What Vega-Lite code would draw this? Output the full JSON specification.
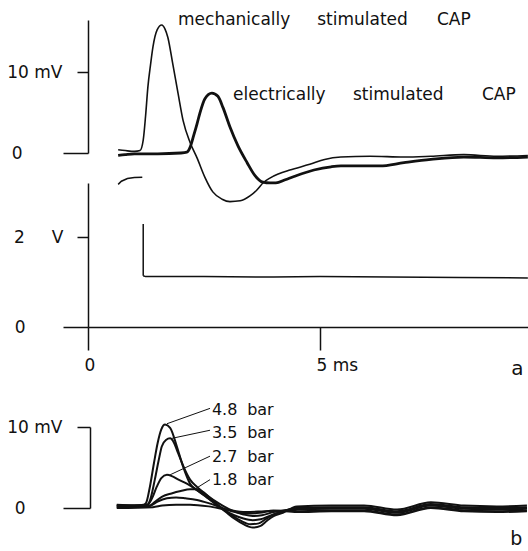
{
  "$schema": "https://vega.github.io/schema/vega-lite/v6.json",
  "width": 528,
  "height": 551,
  "autosize": {"type": "none"},
  "padding": 0,
  "background": "white",
  "config": {
    "view": {"stroke": null},
    "axis": {"grid": false, "domainColor": "#111", "tickColor": "#111", "labelColor": "#111", "labelFont": "DejaVu Sans", "labelFontSize": 17, "domainWidth": 1.5, "tickWidth": 1.5, "labelOverlap": false, "labelFlush": false}
  },
  "datasets": {
    "top": [
      {"trace":"mechanical","t":0.65,"v":0.4},{"trace":"mechanical","t":0.8,"v":0.3},{"trace":"mechanical","t":1.0,"v":0.2},{"trace":"mechanical","t":1.12,"v":0.3},{"trace":"mechanical","t":1.19,"v":1.6},{"trace":"mechanical","t":1.24,"v":4.5},{"trace":"mechanical","t":1.29,"v":8.1},{"trace":"mechanical","t":1.35,"v":11.0},{"trace":"mechanical","t":1.4,"v":13.1},{"trace":"mechanical","t":1.49,"v":15.2},{"trace":"mechanical","t":1.59,"v":15.8},{"trace":"mechanical","t":1.66,"v":15.3},{"trace":"mechanical","t":1.72,"v":14.3},{"trace":"mechanical","t":1.83,"v":10.9},{"trace":"mechanical","t":1.94,"v":7.4},{"trace":"mechanical","t":2.05,"v":4.0},{"trace":"mechanical","t":2.2,"v":1.3},{"trace":"mechanical","t":2.35,"v":-0.6},{"trace":"mechanical","t":2.52,"v":-3.0},{"trace":"mechanical","t":2.69,"v":-4.8},{"trace":"mechanical","t":2.89,"v":-5.7},{"trace":"mechanical","t":3.06,"v":-6.0},{"trace":"mechanical","t":3.28,"v":-5.9},{"trace":"mechanical","t":3.49,"v":-5.3},{"trace":"mechanical","t":3.65,"v":-4.5},{"trace":"mechanical","t":3.77,"v":-3.7},{"trace":"mechanical","t":3.92,"v":-3.1},{"trace":"mechanical","t":4.1,"v":-2.6},{"trace":"mechanical","t":4.35,"v":-2.1},{"trace":"mechanical","t":4.78,"v":-1.4},{"trace":"mechanical","t":5.1,"v":-0.8},{"trace":"mechanical","t":5.45,"v":-0.5},{"trace":"mechanical","t":6.08,"v":-0.4},{"trace":"mechanical","t":6.81,"v":-0.5},{"trace":"mechanical","t":7.39,"v":-0.4},{"trace":"mechanical","t":8.1,"v":-0.2},{"trace":"mechanical","t":8.81,"v":-0.4},{"trace":"mechanical","t":9.48,"v":-0.3},
      {"trace":"electrical","t":0.65,"v":-0.3},{"trace":"electrical","t":0.8,"v":-0.2},{"trace":"electrical","t":1.0,"v":-0.1},{"trace":"electrical","t":1.5,"v":-0.1},{"trace":"electrical","t":2.0,"v":0.0},{"trace":"electrical","t":2.13,"v":0.1},{"trace":"electrical","t":2.2,"v":0.7},{"trace":"electrical","t":2.28,"v":2.2},{"trace":"electrical","t":2.35,"v":3.6},{"trace":"electrical","t":2.41,"v":4.9},{"trace":"electrical","t":2.52,"v":6.7},{"trace":"electrical","t":2.67,"v":7.4},{"trace":"electrical","t":2.8,"v":7.0},{"trace":"electrical","t":2.91,"v":5.6},{"trace":"electrical","t":3.06,"v":3.2},{"trace":"electrical","t":3.23,"v":0.9},{"trace":"electrical","t":3.43,"v":-1.2},{"trace":"electrical","t":3.6,"v":-2.8},{"trace":"electrical","t":3.77,"v":-3.6},{"trace":"electrical","t":3.92,"v":-3.7},{"trace":"electrical","t":4.05,"v":-3.7},{"trace":"electrical","t":4.25,"v":-3.3},{"trace":"electrical","t":4.44,"v":-2.9},{"trace":"electrical","t":4.87,"v":-2.1},{"trace":"electrical","t":5.24,"v":-1.7},{"trace":"electrical","t":5.45,"v":-1.6},{"trace":"electrical","t":6.29,"v":-1.6},{"trace":"electrical","t":6.81,"v":-1.2},{"trace":"electrical","t":7.39,"v":-0.8},{"trace":"electrical","t":8.1,"v":-0.5},{"trace":"electrical","t":8.81,"v":-0.6},{"trace":"electrical","t":9.48,"v":-0.5}
    ],
    "topText": [
      {"t":1.94,"v":15.8,"w":"mechanically"},{"t":4.94,"v":15.8,"w":"stimulated"},{"t":7.52,"v":15.8,"w":"CAP"},
      {"t":3.125,"v":6.54,"w":"electrically"},{"t":5.71,"v":6.54,"w":"stimulated"},{"t":8.49,"v":6.54,"w":"CAP"}
    ],
    "volt": [
      {"seg":"pre","t":0.65,"v":3.17},{"seg":"pre","t":0.72,"v":3.24},{"seg":"pre","t":0.85,"v":3.3},{"seg":"pre","t":1.0,"v":3.32},{"seg":"pre","t":1.17,"v":3.33},
      {"seg":"drop","t":1.19,"v":2.29},{"seg":"drop","t":1.19,"v":1.14},
      {"seg":"level","t":1.19,"v":1.14},{"seg":"level","t":1.24,"v":1.12},{"seg":"level","t":2.5,"v":1.12},{"seg":"level","t":4.0,"v":1.11},{"seg":"level","t":5.0,"v":1.12},{"seg":"level","t":6.5,"v":1.11},{"seg":"level","t":8.0,"v":1.1},{"seg":"level","t":9.48,"v":1.09}
    ],
    "b": [
      {"p":"4.8","t":0.62,"v":0.3},{"p":"4.8","t":1.0,"v":0.3},{"p":"4.8","t":1.2,"v":0.4},{"p":"4.8","t":1.25,"v":0.6},{"p":"4.8","t":1.33,"v":2.5},{"p":"4.8","t":1.42,"v":5.5},{"p":"4.8","t":1.5,"v":8.0},{"p":"4.8","t":1.58,"v":9.7},{"p":"4.8","t":1.66,"v":10.3},{"p":"4.8","t":1.77,"v":9.9},{"p":"4.8","t":1.92,"v":7.5},{"p":"4.8","t":2.05,"v":5.1},{"p":"4.8","t":2.2,"v":3.0},{"p":"4.8","t":2.35,"v":2.2},{"p":"4.8","t":2.5,"v":1.6},{"p":"4.8","t":2.7,"v":0.7},{"p":"4.8","t":2.95,"v":-0.4},{"p":"4.8","t":3.15,"v":-1.3},{"p":"4.8","t":3.35,"v":-2.0},{"p":"4.8","t":3.55,"v":-2.4},{"p":"4.8","t":3.72,"v":-2.2},{"p":"4.8","t":3.85,"v":-1.6},{"p":"4.8","t":4.0,"v":-1.0},{"p":"4.8","t":4.2,"v":-0.6},{"p":"4.8","t":4.5,"v":0.2},{"p":"4.8","t":5.24,"v":0.3},{"p":"4.8","t":5.95,"v":0.3},{"p":"4.8","t":6.66,"v":-0.2},{"p":"4.8","t":7.39,"v":0.7},{"p":"4.8","t":8.1,"v":0.3},{"p":"4.8","t":8.81,"v":0.2},{"p":"4.8","t":9.46,"v":0.3},
      {"p":"3.5","t":0.62,"v":0.2},{"p":"3.5","t":1.0,"v":0.2},{"p":"3.5","t":1.25,"v":0.3},{"p":"3.5","t":1.34,"v":1.0},{"p":"3.5","t":1.44,"v":3.5},{"p":"3.5","t":1.52,"v":5.8},{"p":"3.5","t":1.59,"v":7.6},{"p":"3.5","t":1.68,"v":8.4},{"p":"3.5","t":1.77,"v":8.6},{"p":"3.5","t":1.85,"v":8.1},{"p":"3.5","t":1.94,"v":6.8},{"p":"3.5","t":2.09,"v":4.7},{"p":"3.5","t":2.2,"v":3.5},{"p":"3.5","t":2.35,"v":2.6},{"p":"3.5","t":2.5,"v":1.9},{"p":"3.5","t":2.7,"v":0.9},{"p":"3.5","t":2.9,"v":-0.1},{"p":"3.5","t":3.1,"v":-0.9},{"p":"3.5","t":3.3,"v":-1.6},{"p":"3.5","t":3.5,"v":-2.0},{"p":"3.5","t":3.68,"v":-1.9},{"p":"3.5","t":3.82,"v":-1.4},{"p":"3.5","t":4.0,"v":-0.8},{"p":"3.5","t":4.2,"v":-0.4},{"p":"3.5","t":4.5,"v":0.0},{"p":"3.5","t":5.24,"v":0.1},{"p":"3.5","t":5.95,"v":0.1},{"p":"3.5","t":6.66,"v":-0.4},{"p":"3.5","t":7.39,"v":0.5},{"p":"3.5","t":8.1,"v":0.1},{"p":"3.5","t":8.81,"v":0.0},{"p":"3.5","t":9.46,"v":0.1},
      {"p":"2.7","t":0.62,"v":0.4},{"p":"2.7","t":1.0,"v":0.3},{"p":"2.7","t":1.28,"v":0.4},{"p":"2.7","t":1.38,"v":1.2},{"p":"2.7","t":1.48,"v":2.6},{"p":"2.7","t":1.58,"v":3.7},{"p":"2.7","t":1.7,"v":4.1},{"p":"2.7","t":1.82,"v":3.9},{"p":"2.7","t":1.95,"v":3.5},{"p":"2.7","t":2.13,"v":3.0},{"p":"2.7","t":2.35,"v":2.2},{"p":"2.7","t":2.56,"v":1.3},{"p":"2.7","t":2.75,"v":0.5},{"p":"2.7","t":2.95,"v":-0.3},{"p":"2.7","t":3.15,"v":-0.9},{"p":"2.7","t":3.35,"v":-1.3},{"p":"2.7","t":3.55,"v":-1.5},{"p":"2.7","t":3.72,"v":-1.4},{"p":"2.7","t":3.9,"v":-1.0},{"p":"2.7","t":4.1,"v":-0.6},{"p":"2.7","t":4.3,"v":-0.3},{"p":"2.7","t":4.5,"v":-0.2},{"p":"2.7","t":5.24,"v":-0.1},{"p":"2.7","t":5.95,"v":-0.1},{"p":"2.7","t":6.66,"v":-0.6},{"p":"2.7","t":7.39,"v":0.3},{"p":"2.7","t":8.1,"v":-0.1},{"p":"2.7","t":8.81,"v":-0.2},{"p":"2.7","t":9.46,"v":-0.1},
      {"p":"1.8","t":0.62,"v":0.1},{"p":"1.8","t":1.3,"v":0.2},{"p":"1.8","t":1.45,"v":0.8},{"p":"1.8","t":1.6,"v":1.4},{"p":"1.8","t":1.8,"v":1.8},{"p":"1.8","t":2.0,"v":2.1},{"p":"1.8","t":2.2,"v":2.3},{"p":"1.8","t":2.35,"v":2.3},{"p":"1.8","t":2.5,"v":1.8},{"p":"1.8","t":2.7,"v":1.0},{"p":"1.8","t":2.9,"v":0.3},{"p":"1.8","t":3.1,"v":-0.3},{"p":"1.8","t":3.35,"v":-0.8},{"p":"1.8","t":3.55,"v":-1.0},{"p":"1.8","t":3.75,"v":-0.9},{"p":"1.8","t":4.0,"v":-0.5},{"p":"1.8","t":4.3,"v":-0.3},{"p":"1.8","t":4.5,"v":-0.4},{"p":"1.8","t":5.24,"v":-0.3},{"p":"1.8","t":5.95,"v":-0.3},{"p":"1.8","t":6.66,"v":-0.8},{"p":"1.8","t":7.39,"v":0.1},{"p":"1.8","t":8.1,"v":-0.3},{"p":"1.8","t":8.81,"v":-0.4},{"p":"1.8","t":9.46,"v":-0.3},
      {"p":"x1","t":0.62,"v":0.3},{"p":"x1","t":1.35,"v":0.3},{"p":"x1","t":1.5,"v":0.8},{"p":"x1","t":1.7,"v":1.2},{"p":"x1","t":1.9,"v":1.3},{"p":"x1","t":2.1,"v":1.2},{"p":"x1","t":2.35,"v":1.0},{"p":"x1","t":2.6,"v":0.6},{"p":"x1","t":2.85,"v":0.1},{"p":"x1","t":3.1,"v":-0.4},{"p":"x1","t":3.4,"v":-0.7},{"p":"x1","t":3.7,"v":-0.6},{"p":"x1","t":4.0,"v":-0.3},{"p":"x1","t":4.5,"v":-0.5},{"p":"x1","t":5.24,"v":-0.4},{"p":"x1","t":5.95,"v":-0.4},{"p":"x1","t":6.66,"v":-0.9},{"p":"x1","t":7.39,"v":0.0},{"p":"x1","t":8.1,"v":-0.4},{"p":"x1","t":8.81,"v":-0.5},{"p":"x1","t":9.46,"v":-0.4},
      {"p":"x2","t":0.62,"v":0.0},{"p":"x2","t":1.4,"v":0.1},{"p":"x2","t":1.6,"v":0.3},{"p":"x2","t":1.9,"v":0.4},{"p":"x2","t":2.2,"v":0.4},{"p":"x2","t":2.6,"v":0.2},{"p":"x2","t":3.0,"v":-0.2},{"p":"x2","t":3.4,"v":-0.5},{"p":"x2","t":3.8,"v":-0.4},{"p":"x2","t":4.2,"v":-0.3},{"p":"x2","t":4.5,"v":-0.1},{"p":"x2","t":5.24,"v":0.0},{"p":"x2","t":5.95,"v":0.0},{"p":"x2","t":6.66,"v":-0.5},{"p":"x2","t":7.39,"v":0.4},{"p":"x2","t":8.1,"v":0.0},{"p":"x2","t":8.81,"v":-0.1},{"p":"x2","t":9.46,"v":0.0}
    ],
    "bLead": [
      {"t":1.7,"v":10.4,"t2":2.63,"v2":12.3},
      {"t":1.81,"v":8.6,"t2":2.63,"v2":9.6},
      {"t":1.77,"v":4.1,"t2":2.63,"v2":6.4},
      {"t":2.35,"v":2.5,"t2":2.63,"v2":3.5}
    ],
    "bText": [
      {"t":2.67,"v":11.48,"w":"4.8"},{"t":3.43,"v":11.48,"w":"bar"},
      {"t":2.67,"v":8.64,"w":"3.5"},{"t":3.43,"v":8.64,"w":"bar"},
      {"t":2.67,"v":5.68,"w":"2.7"},{"t":3.43,"v":5.68,"w":"bar"},
      {"t":2.67,"v":2.84,"w":"1.8"},{"t":3.43,"v":2.84,"w":"bar"}
    ]
  },
  "layer": [
    {
      "data": {"name": "top"},
      "mark": {"type": "line", "interpolate": "monotone", "color": "#111"},
      "encoding": {
        "x": {"field": "t", "type": "quantitative", "scale": {"domain": [0, 9.483], "range": [88, 528], "nice": false, "zero": false}},
        "y": {"field": "v", "type": "quantitative", "scale": {"domain": [0, 16.42], "range": [153, 20], "nice": false, "zero": false},
          "axis": {"orient": "left", "offset": -88, "values": [0, 10], "title": null, "labelExpr": "datum.value == 10 ? '10 mV' : '0'",
            "tickSize": {"condition": {"test": "datum.value == 0", "value": 25}, "value": 11},
            "labelPadding": {"condition": {"test": "datum.value == 0", "value": 41}, "value": 15}}},
        "detail": {"field": "trace", "type": "nominal"},
        "strokeWidth": {"field": "trace", "type": "nominal", "scale": {"domain": ["mechanical", "electrical"], "range": [1.6, 2.8]}, "legend": null}
      }
    },
    {
      "data": {"name": "topText"},
      "mark": {"type": "text", "align": "left", "baseline": "alphabetic", "font": "DejaVu Sans", "fontSize": 17, "color": "#111"},
      "encoding": {
        "x": {"field": "t", "type": "quantitative"},
        "y": {"field": "v", "type": "quantitative", "scale": {"domain": [0, 16.42], "range": [153, 20], "nice": false, "zero": false}, "axis": null},
        "text": {"field": "w"}
      }
    },
    {
      "data": {"name": "volt"},
      "mark": {"type": "line", "color": "#111", "strokeWidth": 1.5},
      "encoding": {
        "x": {"field": "t", "type": "quantitative",
          "axis": {"orient": "bottom", "offset": -224, "values": [0, 5], "title": null, "labelExpr": "datum.value == 5 ? '5 ms' : '0'", "tickSize": 23, "labelPadding": 7, "labelAlign": "left", "labelOffset": -4}},
        "y": {"field": "v", "type": "quantitative", "scale": {"domain": [0, 3.2], "range": [327, 183], "nice": false, "zero": false},
          "axis": {"orient": "left", "offset": -88, "values": [0, 2], "title": null, "labelExpr": "datum.value == 2 ? '2\u00a0\u00a0\u00a0\u00a0\u00a0V' : '0'",
            "tickSize": {"condition": {"test": "datum.value == 0", "value": 25}, "value": 11},
            "labelPadding": {"condition": {"test": "datum.value == 0", "value": 38}, "value": 14}}},
        "detail": {"field": "seg", "type": "nominal"}
      }
    },
    {
      "data": {"values": [{"t": 9.12, "v": -1.07, "w": "a"}]},
      "mark": {"type": "text", "align": "left", "baseline": "alphabetic", "font": "DejaVu Sans", "fontSize": 20, "color": "#111"},
      "encoding": {
        "x": {"field": "t", "type": "quantitative"},
        "y": {"field": "v", "type": "quantitative", "scale": {"domain": [0, 3.2], "range": [327, 183], "nice": false, "zero": false}, "axis": null},
        "text": {"field": "w"}
      }
    },
    {
      "data": {"name": "b"},
      "mark": {"type": "line", "interpolate": "monotone", "color": "#111", "strokeWidth": 2},
      "encoding": {
        "x": {"field": "t", "type": "quantitative"},
        "y": {"field": "v", "type": "quantitative", "scale": {"domain": [0, 10], "range": [508, 427], "nice": false, "zero": false},
          "axis": {"orient": "left", "offset": -90, "values": [0, 10], "title": null, "labelExpr": "datum.value == 10 ? '10 mV' : '0'",
            "tickSize": {"condition": {"test": "datum.value == 0", "value": 27}, "value": 13},
            "labelPadding": {"condition": {"test": "datum.value == 0", "value": 38}, "value": 15}}},
        "detail": {"field": "p", "type": "nominal"}
      }
    },
    {
      "data": {"name": "bLead"},
      "mark": {"type": "rule", "color": "#111", "strokeWidth": 1},
      "encoding": {
        "x": {"field": "t", "type": "quantitative"},
        "x2": {"field": "t2"},
        "y": {"field": "v", "type": "quantitative", "scale": {"domain": [0, 10], "range": [508, 427], "nice": false, "zero": false}, "axis": null},
        "y2": {"field": "v2"}
      }
    },
    {
      "data": {"name": "bText"},
      "mark": {"type": "text", "align": "left", "baseline": "alphabetic", "font": "DejaVu Sans", "fontSize": 16, "color": "#111"},
      "encoding": {
        "x": {"field": "t", "type": "quantitative"},
        "y": {"field": "v", "type": "quantitative", "scale": {"domain": [0, 10], "range": [508, 427], "nice": false, "zero": false}, "axis": null},
        "text": {"field": "w"}
      }
    },
    {
      "data": {"values": [{"t": 9.1, "v": -4.6, "w": "b"}]},
      "mark": {"type": "text", "align": "left", "baseline": "alphabetic", "font": "DejaVu Sans", "fontSize": 19, "color": "#111"},
      "encoding": {
        "x": {"field": "t", "type": "quantitative"},
        "y": {"field": "v", "type": "quantitative", "scale": {"domain": [0, 10], "range": [508, 427], "nice": false, "zero": false}, "axis": null},
        "text": {"field": "w"}
      }
    }
  ],
  "resolve": {"scale": {"y": "independent"}, "axis": {"y": "independent"}}
}
